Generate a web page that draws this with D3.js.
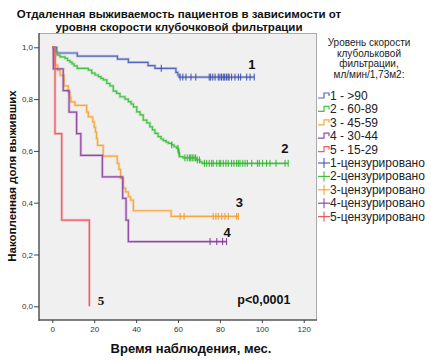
<!DOCTYPE html>
<html><head><meta charset="utf-8">
<script src="https://cdn.jsdelivr.net/npm/d3@7/dist/d3.min.js"></script>
<style>
body{margin:0;background:#fff;}
svg{display:block;font-family:"Liberation Sans",Arial,sans-serif;}
</style></head>
<body><svg id="c" width="431" height="360"></svg>
<script>
// ---- data ----
const groupLabels = ["1 - >90","2 - 60-89","3 - 45-59","4 - 30-44","5 - 15-29"];
const censLabels = ["1-цензурировано","2-цензурировано","3-цензурировано","4-цензурировано","5-цензурировано"];
const colors = ["#5468bd","#45c045","#f8a840","#934aa6","#f05a64"];
const censColors = ["#3a4faa","#2fb52f","#f59a20","#853a98","#ee3c48"];

// group 1
const t1 = [0,2.1,11.9,31.1,36.3,45.7,49.0,59.0,59.9,60.5];
const s1 = [1,0.978,0.966,0.954,0.942,0.929,0.919,0.903,0.893,0.885];
const c1 = [52,61,62.3,63.8,66.2,68.5,74.9,75.6,76.6,77.7,79.2,80,80.8,81.6,82.3,83.1,83.9,84.4,85.6,87.2,88.8,89.9,92.8,94.4,96.4];
const end1 = 96.4;
// group 2
const t2 = [0,1.0,1.8,2.4,3.7,6.1,7.3,8.4,9.4,10.4,11.9,17.2,18.8,20.4,22.0,23.2,24.3,26.0,27.5,29.1,30.7,32.3,34.7,36.3,37.6,38.7,40.3,41.9,43.4,45.1,46.6,47.8,49.0,50.5,51.9,53.0,54.3,55.4,57.0,58.1,59.4,60.2,60.7,62.4,68.6,70.5,71.5];
const s2 = [1,0.988,0.982,0.970,0.963,0.957,0.949,0.943,0.936,0.928,0.919,0.912,0.900,0.893,0.887,0.880,0.874,0.861,0.851,0.831,0.822,0.809,0.800,0.790,0.781,0.770,0.751,0.739,0.719,0.708,0.693,0.681,0.668,0.655,0.646,0.640,0.634,0.629,0.623,0.616,0.610,0.592,0.578,0.573,0.565,0.558,0.552];
const c2 = [57,60,60.5,63.3,64.4,65.4,66.1,66.8,67.6,68.4,69.2,70.2,72.6,73.7,74.9,76.1,76.8,78.5,79.7,80.4,81.6,82.9,84,85.6,86.7,88,88.8,89.6,90.9,92,93.1,95.2,97.9,98.8,100.4,102.3,103.9,106.8,111.1,112.6];
const end2 = 112.6;
// group 3
const t3 = [0,0.8,1.4,2.6,3.7,5.6,7.6,8.4,8.9,10.8,16.4,17.2,19.3,20.0,20.6,21.1,21.6,24.3,31.0,31.8,32.6,33.9,35.0,36.3,37.4,38.7,56.7];
const s3 = [1,0.966,0.931,0.911,0.892,0.851,0.827,0.808,0.789,0.776,0.750,0.731,0.712,0.692,0.673,0.647,0.621,0.580,0.552,0.529,0.494,0.456,0.442,0.423,0.410,0.369,0.347];
const c3 = [61,62.9,76.8,78.1,79.2,80.9,82.4,84,88,88.8];
const end3 = 88.8;
// group 4
const t4 = [0,0.5,5.2,8.0,11.6,13.6,23.9,33.6,35.2,36.3];
const s4 = [1,0.917,0.833,0.750,0.667,0.583,0.500,0.417,0.333,0.250];
const c4 = [75.3,78.5,81.3,83.2];
const end4 = 83.2;
// group 5
const t5 = [0,1.3,4.5,17.7];
const s5 = [1,0.667,0.333,0];
const c5 = [];
const end5 = 17.7;

const yTicks = [0,0.2,0.4,0.6,0.8,1.0];
const xTicks = [0,20,40,60,80,100,120];
const curveNames = ["1","2","3","4","5"];
const curveNamePos = [[95.2,0.935],[111,0.61],[89.3,0.40],[83.5,0.286],[23.2,0.024]];

const groups = [
  {t:t1,s:s1,c:c1,end:end1},
  {t:t2,s:s2,c:c2,end:end2},
  {t:t3,s:s3,c:c3,end:end3},
  {t:t4,s:s4,c:c4,end:end4},
  {t:t5,s:s5,c:c5,end:end5}
];

// ---- drawing ----
const svg = d3.select("#c");
const frame = {l:39,r:317,t:33,b:320};
const x = d3.scaleLinear().domain([0,120]).range([52.3,303.7]);
const y = d3.scaleLinear().domain([0,1]).range([306.3,47.3]);

// title
svg.append("text").attr("x",179).attr("y",18).attr("text-anchor","middle")
  .attr("font-weight","bold").attr("font-size","11.5px").attr("fill","#111")
  .text("Отдаленная выживаемость пациентов в зависимости от");
svg.append("text").attr("x",179).attr("y",30.5).attr("text-anchor","middle")
  .attr("font-weight","bold").attr("font-size","11.5px").attr("fill","#111")
  .text("уровня скорости клубочковой фильтрации");

// plot bg
svg.append("rect").attr("x",frame.l).attr("y",frame.t).attr("width",frame.r-frame.l).attr("height",frame.b-frame.t)
  .attr("fill","#f0f0f0");
svg.append("line").attr("x1",frame.l).attr("x2",frame.r).attr("y1",frame.t+0.5).attr("y2",frame.t+0.5).attr("stroke","#aaa");
svg.append("line").attr("x1",frame.r-0.5).attr("x2",frame.r-0.5).attr("y1",frame.t).attr("y2",frame.b).attr("stroke","#aaa");
svg.append("line").attr("x1",frame.l).attr("x2",frame.l).attr("y1",frame.t).attr("y2",frame.b+1).attr("stroke","#555").attr("stroke-width",1.5);
svg.append("line").attr("x1",frame.l).attr("x2",frame.r).attr("y1",frame.b).attr("y2",frame.b).attr("stroke","#555").attr("stroke-width",1.5);

const fmt = v => d3.format(".1f")(v).replace(".",",");
const ya = svg.append("g").attr("transform",`translate(${frame.l},0)`)
  .call(d3.axisLeft(y).tickValues(yTicks).tickFormat(fmt).tickSize(5).tickSizeOuter(0).tickPadding(1));
ya.select(".domain").remove();
ya.selectAll("line").attr("stroke","#444");
ya.selectAll("text").attr("font-size","8px").attr("fill","#333").attr("font-family","Liberation Sans, Arial, sans-serif");

const xa = svg.append("g").attr("transform",`translate(0,${frame.b})`)
  .call(d3.axisBottom(x).tickValues(xTicks).tickSize(3).tickSizeOuter(0).tickPadding(3));
xa.select(".domain").remove();
xa.selectAll("line").attr("stroke","#444");
xa.selectAll("text").attr("font-size","8px").attr("fill","#333").attr("font-family","Liberation Sans, Arial, sans-serif");

// axis titles
svg.append("text").attr("x",191).attr("y",353).attr("text-anchor","middle")
  .attr("font-weight","bold").attr("font-size","13px").attr("fill","#111").text("Время наблюдения, мес.");
svg.append("text").attr("transform","translate(16,176) rotate(-90)").attr("text-anchor","middle")
  .attr("font-weight","bold").attr("font-size","11.5px").attr("fill","#111").text("Накопленная доля выживших");

// curves
const line = d3.line().x(d=>x(d[0])).y(d=>y(d[1])).curve(d3.curveStepAfter);
groups.forEach((g,i)=>{
  const pts = g.t.map((tt,k)=>[tt,g.s[k]]);
  pts.push([g.end,g.s[g.s.length-1]]);
  svg.append("path").datum(pts).attr("d",line).attr("fill","none")
    .attr("stroke",colors[i]).attr("stroke-opacity",0.3).attr("stroke-width",2.8);
  svg.append("path").datum(pts).attr("d",line).attr("fill","none")
    .attr("stroke",colors[i]).attr("stroke-width",1.2);
});
// censor marks
groups.forEach((g,i)=>{
  const sAt = tt => { let v=1; g.t.forEach((k,j)=>{ if(k<=tt) v=g.s[j]; }); return v; };
  svg.append("g").selectAll("line").data(g.c).join("line")
    .attr("x1",d=>x(d)).attr("x2",d=>x(d))
    .attr("y1",d=>y(sAt(d))-3.5).attr("y2",d=>y(sAt(d))+3.5)
    .attr("stroke",censColors[i]).attr("stroke-width",1);
});

// curve labels
curveNamePos.forEach((p,i)=>{
  svg.append("text").attr("x",x(p[0])).attr("y",y(p[1])+4.5).attr("text-anchor","middle")
    .attr("font-weight","bold").attr("font-size","13px").attr("fill","#111")
    .attr("font-family", i===4 ? "Liberation Serif, Times New Roman, serif" : "Liberation Sans, Arial, sans-serif")
    .text(curveNames[i]);
});
svg.append("text").attr("x",x(101)).attr("y",y(0.028)+4.5).attr("text-anchor","middle")
  .attr("font-weight","bold").attr("font-size","12.5px").attr("fill","#111").text("p<0,0001");

// legend
const legTitle = ["Уровень скорости","клубольковой","фильтрации,","мл/мин/1,73м2:"];
svg.append("g").selectAll("text").data(legTitle).join("text")
  .attr("x",369).attr("y",(d,i)=>46+i*10.5).attr("text-anchor","middle")
  .attr("font-size","10px").attr("fill","#222").text(d=>d);
const legY = i => 96 + i*13.4;
groupLabels.forEach((lab,i)=>{
  const yy = legY(i);
  svg.append("path").attr("d",`M318,${yy+2}H324V${yy-3}H329V${yy}`).attr("fill","none")
    .attr("stroke",colors[i]).attr("stroke-width",1.2);
  svg.append("text").attr("x",330).attr("y",yy+4).attr("font-size","12px").attr("fill","#222").text(lab);
});
censLabels.forEach((lab,i)=>{
  const yy = legY(i+5);
  svg.append("line").attr("x1",318).attr("x2",330).attr("y1",yy).attr("y2",yy).attr("stroke",colors[i]).attr("stroke-width",1.2);
  svg.append("line").attr("x1",324).attr("x2",324).attr("y1",yy-5).attr("y2",yy+5).attr("stroke",censColors[i]).attr("stroke-width",1);
  svg.append("text").attr("x",330).attr("y",yy+4).attr("font-size","12px").attr("fill","#222").text(lab);
});
</script></body></html>
